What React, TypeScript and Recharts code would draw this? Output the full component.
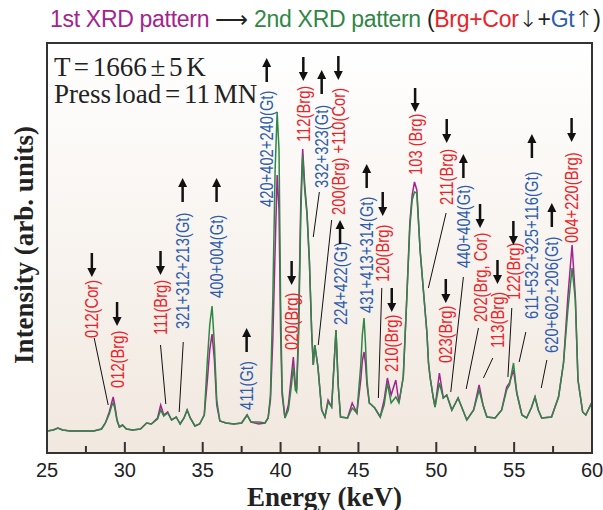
import { LineChart, Line, XAxis, YAxis, ReferenceDot, ReferenceLine } from "recharts";

// energy grid (keV) and intensities (arb. units) of both patterns
const energy = [
  25.0, 25.4, 25.7, 26.0, 26.5, 27.0, 27.5, 28.0, 28.5, 28.75, 29.0, 29.15, 29.25, 29.35, 29.5, 29.65, 29.85,
  30.1, 30.5, 31.0, 31.4, 31.7, 32.1, 32.3, 32.5, 32.75, 33.0, 33.3, 33.55, 33.8, 34.0, 34.2, 34.5, 34.8,
  35.1, 35.3, 35.45, 35.6, 35.75, 35.9, 36.1, 36.5, 37.0, 37.5, 37.85, 38.1, 38.6, 39.0, 39.2, 39.35, 39.5,
  39.65, 39.78, 39.9, 40.0, 40.1, 40.28, 40.5, 40.7, 40.82, 40.95, 41.03, 41.15, 41.3, 41.42, 41.55, 41.7,
  41.85, 42.0, 42.1, 42.2, 42.4, 42.64, 42.85, 43.05, 43.28, 43.45, 43.56, 43.7, 43.85, 44.3, 44.6, 44.9,
  45.15, 45.25, 45.36, 45.45, 45.55, 45.7, 45.85, 46.05, 46.4, 46.65, 46.86, 47.1, 47.4, 47.6, 47.88, 48.1,
  48.3, 48.45, 48.6, 48.75, 48.96, 49.17, 49.4, 49.5, 49.6, 49.8, 49.92, 50.2, 50.45, 50.67, 51.0, 51.4,
  51.96, 52.4, 52.75, 53.0, 53.25, 53.78, 54.2, 54.52, 54.7, 54.96, 55.17, 55.5, 55.8, 56.1, 56.34, 56.55,
  56.77, 57.4, 57.85, 58.17, 58.45, 58.72, 58.93, 59.1, 59.4, 59.6, 60.0,
];

const firstPattern = [
  22, 23, 25, 23, 22, 22, 22, 22, 24, 30, 41, 50, 56, 48, 33, 26, 28,
  24, 23, 24, 30, 29, 35, 48, 38, 41, 33, 36, 29, 35, 43, 35, 27, 29,
  38, 73, 103, 119, 93, 48, 32, 30, 29, 30, 38, 31, 29, 30, 35, 53, 113,
  203, 278, 243, 123, 58, 35, 48, 78, 96, 68, 63, 123, 253, 304, 268, 240,
  193, 120, 88, 108, 86, 43, 36, 53, 46, 93, 123, 68, 36, 35, 50, 40,
  73, 92, 101, 90, 68, 50, 48, 45, 36, 53, 75, 58, 73, 50, 76, 153,
  230, 258, 271, 263, 203, 163, 120, 90, 76, 56, 46, 80, 55, 58, 43, 55,
  33, 43, 68, 48, 36, 35, 43, 66, 70, 83, 60, 38, 35, 45, 56, 43,
  35, 36, 56, 90, 156, 208, 156, 73, 41, 38, 51,
];

const secondPattern = [
  22, 23, 25, 23, 22, 22, 22, 22, 24, 30, 39, 47, 50, 45, 32, 26, 28,
  24, 23, 24, 30, 29, 34, 43, 37, 40, 33, 36, 29, 35, 43, 35, 27, 29,
  38, 93, 128, 147, 108, 53, 32, 30, 29, 30, 38, 31, 31, 30, 35, 58, 153,
  283, 341, 303, 153, 63, 35, 43, 68, 86, 63, 61, 113, 238, 298, 263, 238,
  191, 120, 88, 108, 86, 43, 36, 51, 46, 93, 123, 68, 36, 35, 45, 40,
  88, 118, 135, 110, 73, 50, 48, 45, 36, 48, 70, 50, 56, 50, 76, 153,
  225, 253, 261, 260, 203, 163, 120, 90, 76, 56, 46, 70, 55, 58, 43, 55,
  33, 43, 63, 48, 36, 35, 43, 63, 68, 90, 60, 38, 35, 45, 56, 43,
  35, 36, 56, 90, 143, 185, 153, 73, 41, 38, 51,
];

const energyTicks = [25, 27.5, 30, 32.5, 35, 37.5, 40, 42.5, 45, 47.5, 50, 52.5, 55, 57.5, 60];

// peak assignments: label foot (keV, intensity), arrow centre, optional leader line
const peaks = [
  { text: "012(Cor)", x: 27.88, y: 115, arrowY: 188, leader: [28.03, 115, 28.93, 48] },
  { text: "012(Brg)", x: 29.5, y: 65, arrowY: 139 },
  { text: "111(Brg)", x: 32.29, y: 118, arrowY: 190, leader: [32.29, 108, 32.63, 49] },
  { text: "321+312+213(Gt)", x: 33.71, y: 124, arrowY: 263, leader: [33.75, 111, 33.49, 41] },
  { text: "400+004(Gt)", x: 35.89, y: 155, arrowY: 263 },
  { text: "411(Gt)", x: 37.82, y: 43, arrowY: 113 },
  { text: "420+402+240(Gt)", x: 39.11, y: 246, arrowY: 383 },
  { text: "020(Brg)", x: 40.71, y: 103, arrowY: 180 },
  { text: "112(Brg)", x: 41.46, y: 311, arrowY: 384 },
  { text: "332+323(Gt)", x: 42.64, y: 265, arrowY: 371, leader: [42.49, 261, 42.1, 216] },
  { text: "200(Brg) +110(Cor)", x: 43.71, y: 238, arrowY: 385, leader: [43.28, 233, 42.42, 108] },
  { text: "224+422(Gt)", x: 43.82, y: 128, arrowY: 221 },
  { text: "431+413+314(Gt)", x: 45.53, y: 140, arrowY: 277 },
  { text: "120(Brg)", x: 46.56, y: 171, arrowY: 249, leader: [46.5, 165, 46.28, 55] },
  { text: "210(Brg)", x: 47.14, y: 81, arrowY: 153 },
  { text: "103 (Brg)", x: 48.64, y: 278, arrowY: 353 },
  { text: "211(Brg)", x: 50.67, y: 248, arrowY: 322, leader: [50.63, 240, 49.49, 165] },
  { text: "440+404(Gt)", x: 51.74, y: 185, arrowY: 287, leader: [51.74, 176, 50.93, 61] },
  { text: "023(Brg)", x: 50.61, y: 90, arrowY: 162 },
  { text: "202(Brg, Cor)", x: 52.81, y: 131, arrowY: 237, leader: [52.71, 125, 51.92, 64] },
  { text: "113(Brg)", x: 53.93, y: 105, arrowY: 181, leader: [53.63, 95, 53.03, 75] },
  { text: "122(Brg)", x: 54.95, y: 153, arrowY: 220, leader: [54.85, 145, 54.6, 76] },
  { text: "611+532+325+116(Gt)", x: 56.14, y: 134, arrowY: 307, leader: [55.75, 121, 55.32, 91] },
  { text: "620+602+206(Gt)", x: 57.42, y: 100, arrowY: 238, leader: [57.1, 93, 56.74, 65] },
  { text: "004+220(Brg)", x: 58.69, y: 210, arrowY: 323 },
];

const data = energy.map((e, i) => ({ energy: e, first: firstPattern[i], second: secondPattern[i] }));

const RED = "#EC2227";
const BLUE = "#2D5DAD";
const MAGENTA = "#A3238F";
const GREEN = "#2F8745";
const SANS = "'Liberation Sans', Arial, sans-serif";
const SERIF = "'Liberation Serif', 'Times New Roman', serif";

const EnergyTick = (props: any) => {
  const { x, y, payload } = props;
  const major = payload.value % 5 === 0;
  return (
    <g>
      <line x1={x} y1={y} x2={x} y2={y - (major ? 11 : 7)} stroke="#333" strokeWidth={2} />
      {major && (
        <text x={x} y={y + 24} textAnchor="middle" fontSize={20} fill="#222" fontFamily={SANS}>
          {payload.value}
        </text>
      )}
    </g>
  );
};

const arrowShape = (up: boolean) => (p: any) => {
  const { cx, cy } = p;
  const h = 12;
  const head = 9;
  const tip = up ? cy - h : cy + h;
  const base = up ? tip + head : tip - head;
  return (
    <g>
      <line x1={cx} y1={up ? cy + h : cy - h} x2={cx} y2={base} stroke="#111" strokeWidth={2.5} />
      <polygon points={`${cx},${tip} ${cx - 4.5},${base} ${cx + 4.5},${base}`} fill="#111" />
    </g>
  );
};

// narrow sans: regular face squeezed along the text direction
const labelShape = (text: string, color: string) => (p: any) => {
  const { cx, cy } = p;
  return (
    <text
      x={0}
      y={0}
      dy="0.36em"
      transform={`translate(${cx}, ${cy}) rotate(-90) scale(0.82, 1)`}
      textAnchor="start"
      fontSize={18}
      fill={color}
      fontFamily={SANS}
    >
      {text}
    </text>
  );
};

const App = () => {
  return (
    <div style={{ position: "absolute", left: 0, top: 0, width: 603, height: 510, background: "#fff" }}>
      <div
        style={{
          position: "absolute",
          left: 47,
          top: 43,
          width: 545,
          height: 410,
          background: "linear-gradient(#ffffff, #f1e8df)",
        }}
      />
      <div style={{ position: "absolute", left: 0, top: 0 }}>
        <LineChart width={603} height={510} data={data} margin={{ top: 43, right: 11, bottom: 0, left: 0 }}>
          <XAxis
            dataKey="energy"
            type="number"
            domain={[25, 60]}
            ticks={energyTicks}
            allowDataOverflow
            height={57}
            tickSize={0}
            tickMargin={0}
            tickLine={false}
            axisLine={false}
            tick={<EnergyTick />}
            interval={0}
            label={(p: any) => {
              const vb = p.viewBox;
              return (
                <text
                  x={vb.x + vb.width / 2 + 5}
                  y={vb.y + 53}
                  textAnchor="middle"
                  fontSize={27}
                  fontWeight="bold"
                  fill="#222"
                  fontFamily={SERIF}
                >
                  Energy (keV)
                </text>
              );
            }}
          />
          <YAxis
            type="number"
            domain={[0, 410]}
            width={47}
            tick={false}
            tickLine={false}
            axisLine={false}
            label={(p: any) => {
              const vb = p.viewBox;
              const cy = vb.y + vb.height / 2 - 3;
              return (
                <text
                  transform={`translate(33, ${cy}) rotate(-90)`}
                  textAnchor="middle"
                  fontSize={27}
                  fontWeight="bold"
                  fill="#222"
                  fontFamily={SERIF}
                >
                  Intensity (arb. units)
                </text>
              );
            }}
          />
          <Line type="linear" dataKey="first" stroke={MAGENTA} strokeWidth={1.5} dot={false} isAnimationActive={false} />
          <Line type="linear" dataKey="second" stroke={GREEN} strokeWidth={1.5} dot={false} isAnimationActive={false} />
          {peaks.map((pk, i) =>
            pk.leader ? (
              <ReferenceLine
                key={`l${i}`}
                segment={[
                  { x: pk.leader[0], y: pk.leader[1] },
                  { x: pk.leader[2], y: pk.leader[3] },
                ]}
                stroke="#111"
                strokeWidth={1}
              />
            ) : null
          )}
          {peaks.map((pk, i) => {
            const gt = pk.text.includes("Gt");
            return (
              <ReferenceDot
                key={`t${i}`}
                x={pk.x}
                y={pk.y}
                r={0}
                shape={labelShape(pk.text, gt ? BLUE : RED)}
              />
            );
          })}
          {peaks.map((pk, i) => (
            <ReferenceDot key={`a${i}`} x={pk.x} y={pk.arrowY} r={0} shape={arrowShape(pk.text.includes("Gt"))} />
          ))}
        </LineChart>
      </div>
      <div
        style={{
          position: "absolute",
          left: 45.75,
          top: 41.75,
          width: 547.5,
          height: 412.5,
          border: "2.5px solid #333",
          boxSizing: "border-box",
          pointerEvents: "none",
        }}
      />
      <svg width={603} height={120} style={{ position: "absolute", left: 0, top: 0, pointerEvents: "none" }}>
        <text x={50} y={27} fontSize={23} fontFamily={SANS} letterSpacing={-0.3}>
          <tspan fill={MAGENTA}>1st XRD pattern</tspan>
          <tspan fill="#222"> ⟶ </tspan>
          <tspan fill={GREEN}>2nd XRD pattern </tspan>
          <tspan fill="#222">(</tspan>
          <tspan fill={RED}>Brg+Cor</tspan>
          <tspan fill="#222" fontFamily="'DejaVu Sans', sans-serif" fontWeight={200}>↓</tspan>
          <tspan fill="#222">+</tspan>
          <tspan fill={BLUE}>Gt</tspan>
          <tspan fill="#222" fontFamily="'DejaVu Sans', sans-serif" fontWeight={200}>↑</tspan>
          <tspan fill="#222">)</tspan>
        </text>
        <text x={54} y={76} fontSize={27} fontFamily={SERIF} fill="#222" wordSpacing={-3}>
          T = 1666 ± 5 K
        </text>
        <text x={54} y={103} fontSize={27} fontFamily={SERIF} fill="#222" wordSpacing={-3}>
          Press load = 11 MN
        </text>
      </svg>
    </div>
  );
};

export default App;
